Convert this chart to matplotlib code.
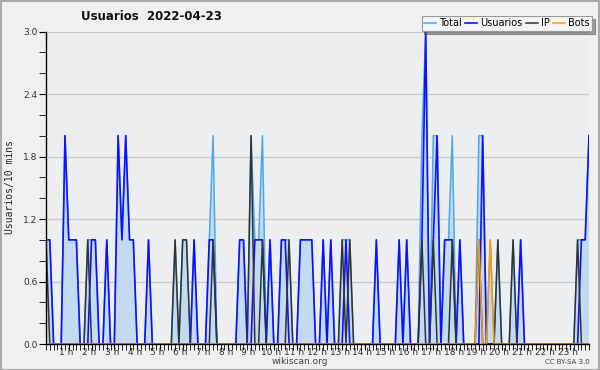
import matplotlib
matplotlib.use("Agg")
import matplotlib.pyplot as plt
import matplotlib.transforms as mtransforms
from matplotlib.patches import Rectangle
import numpy as np

# 10-minute slots, 00:00 .. 23:50 (12 values per row = 2 hours)
total = [1, 1, 0, 0, 0, 2, 1, 1, 1, 0, 0, 1,
         1, 1, 0, 0, 1, 0, 0, 2, 1, 2, 1, 1,
         0, 0, 0, 1, 0, 0, 0, 0, 0, 0, 1, 0,
         1, 1, 0, 1, 0, 0, 0, 1, 2, 0, 0, 0,
         0, 0, 0, 1, 1, 0, 2, 1, 1, 2, 0, 1,
         0, 0, 1, 1, 1, 0, 0, 1, 1, 1, 1, 0,
         0, 1, 0, 1, 0, 0, 1, 1, 1, 0, 0, 0,
         0, 0, 0, 1, 0, 0, 0, 0, 0, 1, 0, 1,
         0, 0, 0, 2, 3, 0, 2, 2, 0, 1, 1, 2,
         0, 1, 0, 0, 0, 0, 2, 2, 0, 1, 0, 1,
         0, 0, 0, 1, 0, 1, 0, 0, 0, 0, 0, 0,
         0, 0, 0, 0, 0, 0, 0, 0, 1, 1, 1, 2]

usuarios = [1, 1, 0, 0, 0, 2, 1, 1, 1, 0, 0, 0,
            1, 1, 0, 0, 1, 0, 0, 2, 1, 2, 1, 1,
            0, 0, 0, 1, 0, 0, 0, 0, 0, 0, 0, 0,
            0, 0, 0, 1, 0, 0, 0, 1, 1, 0, 0, 0,
            0, 0, 0, 1, 1, 0, 0, 1, 1, 1, 0, 1,
            0, 0, 1, 1, 0, 0, 0, 1, 1, 1, 1, 0,
            0, 1, 0, 1, 0, 0, 0, 1, 0, 0, 0, 0,
            0, 0, 0, 1, 0, 0, 0, 0, 0, 1, 0, 1,
            0, 0, 0, 1, 3, 0, 1, 2, 0, 1, 1, 1,
            0, 1, 0, 0, 0, 0, 0, 2, 0, 0, 0, 0,
            0, 0, 0, 0, 0, 1, 0, 0, 0, 0, 0, 0,
            0, 0, 0, 0, 0, 0, 0, 0, 0, 1, 1, 2]

ip = [1, 0, 0, 0, 0, 0, 0, 0, 0, 0, 0, 1,
      0, 0, 0, 0, 0, 0, 0, 0, 0, 0, 0, 0,
      0, 0, 0, 0, 0, 0, 0, 0, 0, 0, 1, 0,
      1, 1, 0, 0, 0, 0, 0, 0, 1, 0, 0, 0,
      0, 0, 0, 0, 0, 0, 2, 0, 0, 1, 0, 0,
      0, 0, 0, 0, 1, 0, 0, 0, 0, 0, 0, 0,
      0, 0, 0, 0, 0, 0, 1, 0, 1, 0, 0, 0,
      0, 0, 0, 0, 0, 0, 0, 0, 0, 0, 0, 0,
      0, 0, 0, 1, 0, 0, 1, 0, 0, 0, 0, 1,
      0, 0, 0, 0, 0, 0, 1, 0, 0, 0, 0, 1,
      0, 0, 0, 1, 0, 0, 0, 0, 0, 0, 0, 0,
      0, 0, 0, 0, 0, 0, 0, 0, 1, 0, 0, 0]

bots = [0] * 108 + [0, 0, 0, 0, 0, 0, 1, 0, 0, 1, 0, 0] + [0] * 24

series_names = ["Total", "Usuarios", "IP", "Bots"]
hour_labels = ["%d h" % h for h in range(1, 24)]
yticks = [0.0, 0.6, 1.2, 1.8, 2.4, 3.0]

x = np.arange(len(total))

fig = plt.figure(figsize=(6, 3.7), dpi=100, facecolor="#f0f0f0")
ax = fig.add_axes([46 / 600, 1 - 344 / 370, 543 / 600, 312.5 / 370])
ax.set_facecolor("#edeef0")

ax.fill_between(x, total, 0, facecolor="#c2dbf0", edgecolor="none", zorder=2)
l_total, = ax.plot(x, total, color="#4aa8f0", lw=1.1, zorder=3)
l_usu, = ax.plot(x, usuarios, color="#1010ff", lw=1.2, zorder=4)
l_ip, = ax.plot(x, ip, color="#333333", lw=1.1, zorder=5)
l_bots, = ax.plot(x, bots, color="#ff9900", lw=1.1, zorder=6)

ax.set_xlim(0, len(total) - 1)
ax.set_ylim(0, 3.0)
ax.set_yticks(yticks)
ax.set_yticklabels(["%.1f" % v for v in yticks])
ax.set_yticks(np.arange(0, 3.01, 0.2), minor=True)
ax.set_xticks(np.arange(6, 144, 6))
ax.set_xticklabels(hour_labels)
ax.set_xticks(np.arange(0, 144, 1), minor=True)
ax.grid(axis="y", which="major", color="#c8c8c8", lw=0.9)
ax.set_axisbelow(True)

for s in ["top", "right"]:
    ax.spines[s].set_visible(False)
ax.spines["left"].set_linewidth(1.0)
ax.spines["bottom"].set_linewidth(1.0)
ax.spines["left"].set_zorder(7)
ax.spines["bottom"].set_zorder(7)
ax.tick_params(axis="both", which="both", direction="out", color="black",
               labelsize=6.5, labelcolor="#333333")
ax.tick_params(axis="y", which="major", length=5, pad=1)
ax.tick_params(axis="y", which="minor", length=5)
ax.tick_params(axis="x", which="both", length=4, pad=-1)
# hour labels sit a little left of their tick
shift = mtransforms.ScaledTranslation(-0.025, 0, fig.dpi_scale_trans)
for lbl in ax.get_xticklabels():
    lbl.set_transform(lbl.get_transform() + shift)

fig.text(151 / 600, 1 - 16 / 370, "Usuarios  2022-04-23", ha="center",
         va="center", fontsize=8.5, fontweight="bold", color="#111111")
fig.text(10 / 600, 1 - 187 / 370, "Usuarios/10 mins", rotation=90,
         ha="center", va="center", fontsize=7, color="#222222",
         family="DejaVu Sans Mono")
fig.text(300 / 600, 1 - 362 / 370, "wikiscan.org", ha="center", va="center",
         fontsize=6.5, color="#444444")
fig.text(590 / 600, 1 - 362 / 370, "CC BY-SA 3.0", ha="right", va="center",
         fontsize=5, color="#444444")

leg = fig.legend(handles=[l_total, l_usu, l_ip, l_bots], labels=series_names,
                 loc="upper right", bbox_to_anchor=(592 / 600, 1 - 16 / 370),
                 ncol=4, fontsize=7, frameon=True, fancybox=False, shadow=True,
                 handlelength=1.2, handletextpad=0.3, columnspacing=0.4,
                 borderpad=0.25, borderaxespad=0)
leg.get_frame().set_edgecolor("#999999")
leg.get_frame().set_linewidth(0.8)
leg.get_frame().set_facecolor("#f4f4f4")

fig.patches.append(Rectangle((0.001, 0.001), 0.997, 0.996, transform=fig.transFigure,
                             fill=False, edgecolor="#aaaaaa", lw=1.5))

fig.savefig("out.png", dpi=100, facecolor=fig.get_facecolor())
